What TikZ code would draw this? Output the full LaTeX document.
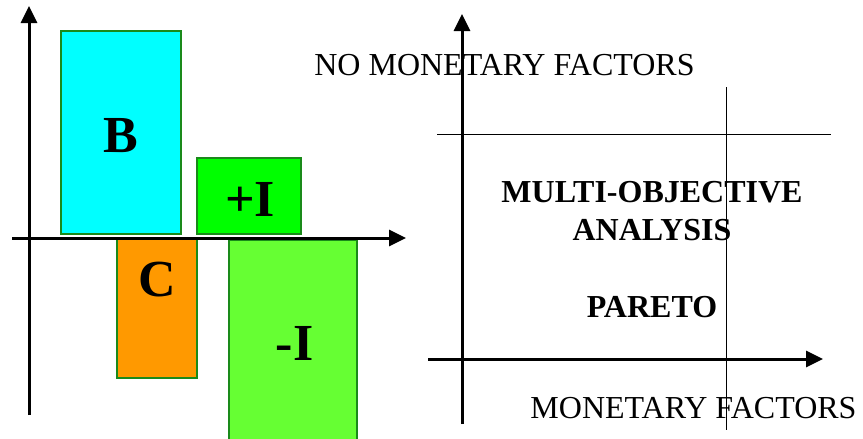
\documentclass[tikz,border=0pt]{standalone}
\usepackage{fontspec}
\setmainfont{Liberation Serif}
\usepackage{tikz}
\usetikzlibrary{arrows.meta}

\definecolor{benefit}{HTML}{00FFFF}
\definecolor{cost}{HTML}{FF9900}
\definecolor{posimp}{HTML}{00FF00}
\definecolor{negimp}{HTML}{66FF33}
\definecolor{barline}{HTML}{1A8A1A}

\begin{document}
\begin{tikzpicture}[
  x=1pt, y=-1pt,
  bar/.style={draw=barline, line width=1.5pt, inner sep=0pt},
  barlab/.style={font=\fontsize{52}{56}\selectfont\bfseries, anchor=base, inner sep=0pt},
  axis/.style={line width=3pt, -{Triangle[length=17pt,width=16pt]}},
  guide/.style={line width=0.8pt},
  factlab/.style={font=\fontsize{32}{36}\selectfont, anchor=base, inner sep=0pt},
  zonelab/.style={font=\fontsize{32}{38}\selectfont\bfseries, anchor=base, inner sep=0pt, align=center},
]
\clip (0,0) rectangle (863,439);

% --- Left panel: bars ---
\node[bar, fill=benefit, minimum width=120pt, minimum height=203pt] (benbar) at (121,132.5) {};
\node[bar, fill=posimp, minimum width=104pt, minimum height=76pt]  (posbar) at (249,196) {};
\node[bar, fill=cost, minimum width=80pt, minimum height=140pt]    (costbar) at (157,308) {};
\node[bar, fill=negimp, minimum width=128pt, minimum height=210pt] (negbar) at (293,345) {};

\node[barlab] (benlab)  at (120.5,152) {B};
\node[barlab] (poslab)  at (250,216)   {+I};
\node[barlab] (costlab) at (157.5,296) {C};
\node[barlab] (neglab)  at (294.5,360) {-I};

% --- Left panel: axes ---
\coordinate (lyb) at (29,415);
\coordinate (lyt) at (29,6);
\coordinate (lxl) at (12,238);
\coordinate (lxr) at (406,238);
\draw[axis] (lyb) -- (lyt);
\draw[axis] (lxl) -- (lxr);

% --- Right panel: axes and guides ---
\coordinate (ryb) at (462,424);
\coordinate (ryt) at (462,14);
\coordinate (rxl) at (428,359);
\coordinate (rxr) at (823,359);
\coordinate (ghl) at (437,134);
\coordinate (ghr) at (831,134);
\coordinate (gvt) at (726,87);
\coordinate (gvb) at (726,430);
\draw[guide] (ghl) -- (ghr);
\draw[guide] (gvt) -- (gvb);
\draw[axis] (ryb) -- (ryt);
\draw[axis] (rxl) -- (rxr);

% --- Right panel: texts ---
\node[factlab] (nomon) at (504.5,75)  {NO MONETARY FACTORS};
\node[factlab] (mon)   at (693.5,418) {MONETARY FACTORS};
\node[zonelab] (multi)  at (652,202)  {MULTI-OBJECTIVE};
\node[zonelab] (anal)   at (652,240)  {ANALYSIS};
\node[zonelab] (pareto) at (652,317)  {PARETO};
\end{tikzpicture}
\end{document}
